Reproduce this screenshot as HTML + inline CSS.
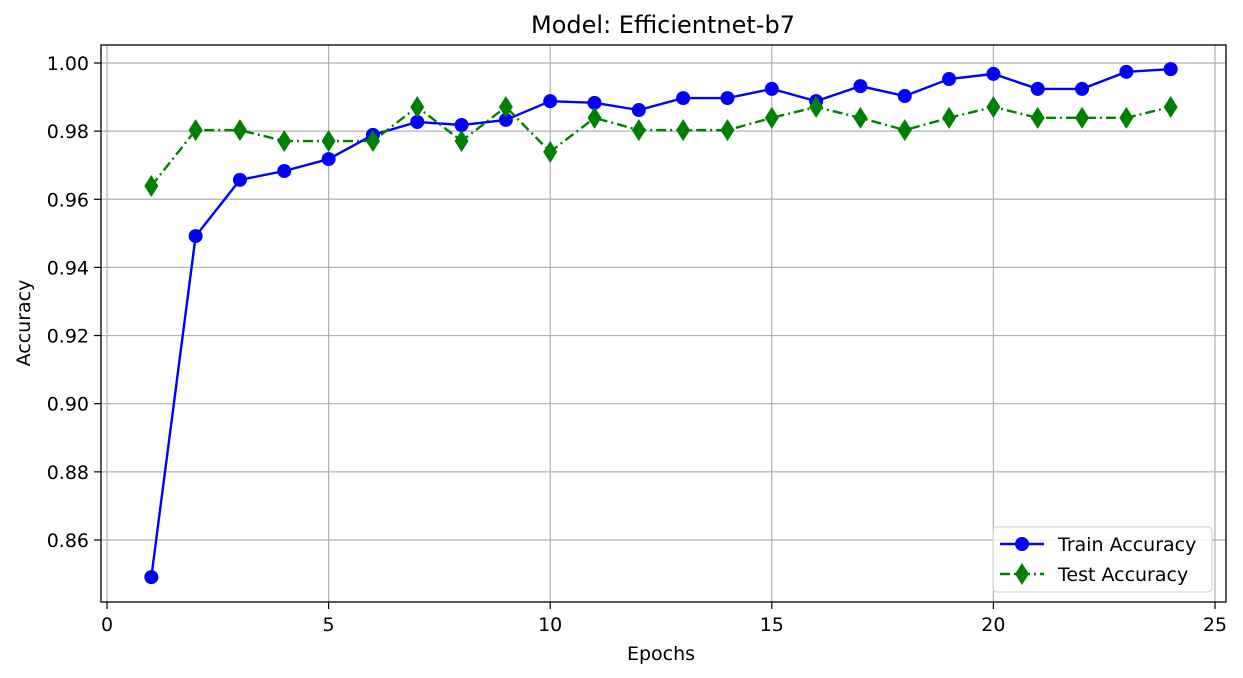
<!DOCTYPE html>
<html><head><meta charset="utf-8"><style>
html,body{margin:0;padding:0;background:#fff;}
svg{display:block;font-family:"DejaVu Sans","Liberation Sans",sans-serif;}
</style></head><body>
<svg id="chart" width="1243" height="678">
<text x="663" y="33" font-size="24" text-anchor="middle">Model: Efficientnet-b7</text>
<g id="grid"></g>
<g id="plot"></g>
<rect x="101" y="45" width="1125" height="557" fill="none" stroke="#000" stroke-width="1.3"/>
<g id="ticks"></g>
<text x="661" y="660" font-size="19" text-anchor="middle">Epochs</text>
<text x="30" y="323" font-size="19" text-anchor="middle" transform="rotate(-90 30 323)">Accuracy</text>
<g>
<rect x="993" y="527" width="219" height="65" rx="4" fill="#fff" fill-opacity="0.8" stroke="#ccc"/>
<g>
<line x1="1000" y1="544" x2="1044" y2="544" stroke="blue" stroke-width="2.4"/>
<circle cx="1022" cy="544" r="7" fill="blue"/>
<text x="1058" y="551" font-size="19">Train Accuracy</text></g>
<g>
<line x1="1000" y1="574" x2="1044" y2="574" stroke="green" stroke-width="2.4" stroke-dasharray="10,4,2,4"/>
<polygon points="1022,563 1029,574 1022,585 1015,574" fill="green"/>
<text x="1058" y="581" font-size="19">Test Accuracy</text></g>
</g>
</svg>
<script>
const epochs=[1,2,3,4,5,6,7,8,9,10,11,12,13,14,15,16,17,18,19,20,21,22,23,24];
const trainAcc=[0.8491,0.9492,0.9657,0.9683,0.9718,0.9789,0.9827,0.9818,0.9833,0.9888,0.9883,0.9862,0.9897,0.9897,0.9924,0.9888,0.9932,0.9903,0.9953,0.9968,0.9924,0.9924,0.9974,0.9982];
const testAcc=[0.9639,0.9803,0.9803,0.9771,0.9771,0.9771,0.9871,0.9771,0.9871,0.9739,0.9839,0.9803,0.9803,0.9803,0.9839,0.9871,0.9839,0.9803,0.9839,0.9871,0.9839,0.9839,0.9839,0.9871];
const xTicks=[0,5,10,15,20,25];
const yTicks=[0.86,0.88,0.90,0.92,0.94,0.96,0.98,1.00];
const NS="http://www.w3.org/2000/svg";
function xs(v){return 107+v*44.32;}
function ys(v){return 63+(1.0-v)*3407;}
function mk(tag,attrs,parent){const e=document.createElementNS(NS,tag);for(const k in attrs)e.setAttribute(k,attrs[k]);parent.appendChild(e);return e;}
const grid=document.getElementById('grid'),ticks=document.getElementById('ticks'),plot=document.getElementById('plot');
xTicks.forEach(t=>{const x=xs(t);
 if(x>101&&x<1226){const g=mk('line',{x1:x,x2:x,y1:45,y2:602,stroke:'#b0b0b0','stroke-width':1.2},grid);
 
 }
 mk('line',{x1:x,x2:x,y1:602,y2:609,stroke:'#000','stroke-width':1.2},ticks);
 const l=mk('text',{x:x,y:631,'font-size':19,'text-anchor':'middle'},ticks);l.textContent=t;
 
 
});
yTicks.forEach(t=>{const y=ys(t);
 const g=mk('line',{x1:101,x2:1226,y1:y,y2:y,stroke:'#b0b0b0','stroke-width':1.2},grid);
 
 
 mk('line',{x1:94,x2:101,y1:y,y2:y,stroke:'#000','stroke-width':1.2},ticks);
 const l=mk('text',{x:89,y:y+7,'font-size':19,'text-anchor':'end'},ticks);l.textContent=t.toFixed(2);
 
 
});
const tl=mk('polyline',{points:epochs.map((e,i)=>xs(e)+','+ys(trainAcc[i])).join(' '),fill:'none',stroke:'blue','stroke-width':2.4},plot);


const sl=mk('polyline',{points:epochs.map((e,i)=>xs(e)+','+ys(testAcc[i])).join(' '),fill:'none',stroke:'green','stroke-width':2.4,'stroke-dasharray':'10,4,2,4'},plot);


epochs.forEach((e,i)=>{
 const c=mk('circle',{cx:xs(e),cy:ys(trainAcc[i]),r:7,fill:'blue'},plot);
 
 
 const x=xs(e),y=ys(testAcc[i]);
 const d=mk('polygon',{points:`${x},${y-11} ${x+7},${y} ${x},${y+11} ${x-7},${y}`,fill:'green'},plot);
 
 
});
</script>
</body></html>
